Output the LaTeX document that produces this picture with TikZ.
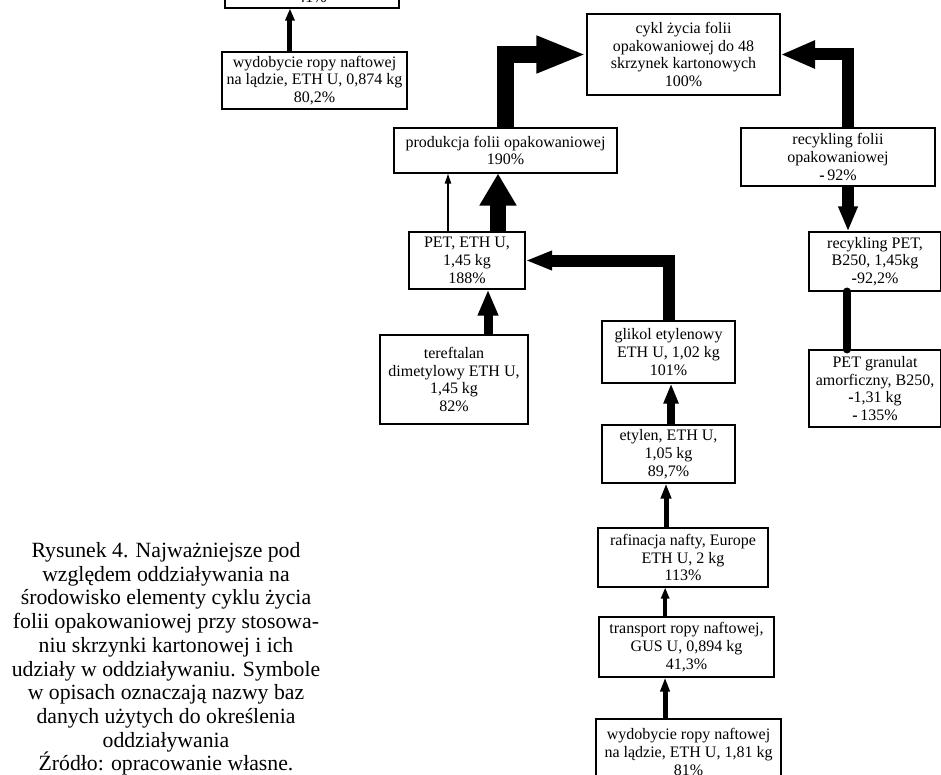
\documentclass[tikz,border=0pt]{standalone}
\usepackage{fontspec}
\setmainfont{Liberation Serif}
\usetikzlibrary{arrows.meta}

\begin{document}
\begin{tikzpicture}[
    x=0.75pt, y=-0.75pt,
    box/.style={rectangle, draw, line width=0.8pt, align=center, inner sep=1pt, font=\fontsize{12}{13.3}\selectfont},
    size/.style 2 args={minimum width=#1*0.75pt, minimum height=#2*0.75pt},
    flow/.style n args={3}{line width=#1, -{Triangle[length=#2, width=#3]}},
]

\useasboundingbox (0,0) rectangle (941,774);
\clip (0,0) rectangle (941,774);

% Left branch (cut at the top)
\node[box, size={174}{22}] (box1) at (312,-3) {41\%};
\node[box, size={185}{57}] (wyd1) at (314.5,80.5) {wydobycie ropy naftowej\\na lądzie, ETH U, 0,874 kg\\80,2\%};

% Top: whole life cycle
\node[box, size={193}{81}] (cykl) at (683.5,54.5) {cykl życia folii\\opakowaniowej do 48\\skrzynek kartonowych\\100\%};
\node[box, size={223}{45}] (prod) at (505.5,150.5) {produkcja folii opakowaniowej\\190\%};

% Recycling branch
\node[box, size={194}{58}] (recF) at (838,157) {recykling folii\\opakowaniowej\\\textbf{-}\,92\%};
\node[box, size={132}{59}] (recPET) at (875,261.5) {recykling PET,\\B250, 1,45kg\\\textbf{-}92,2\%};
\node[box, size={132}{77}] (gran) at (875,388.5) {PET granulat\\amorficzny, B250,\\\textbf{-}1,31 kg\\\textbf{-}\,135\%};

% PET and its inputs
\node[box, size={116}{57}] (PET) at (467,260.5) {PET, ETH U,\\1,45 kg\\188\%};
\node[box, size={148}{89}] (teref) at (454,379.5) {tereftalan\\dimetylowy ETH U,\\1,45 kg\\82\%};
\node[box, size={133}{62}] (glikol) at (668.5,352) {glikol etylenowy\\ETH U, 1,02 kg\\101\%};
\node[box, size={133}{58}] (etylen) at (668.5,454) {etylen, ETH U,\\1,05 kg\\89,7\%};
\node[box, size={170}{59}] (rafin) at (683,557.5) {rafinacja nafty, Europe\\ETH U, 2 kg\\113\%};
\node[box, size={175}{60}] (transp) at (686.5,647) {transport ropy naftowej,\\GUS U, 0,894 kg\\41,3\%};
\node[box, size={185}{66}] (wyd2) at (688.5,752) {wydobycie ropy naftowej\\na lądzie, ETH U, 1,81 kg\\81\%};

% Caption
\node[anchor=north, align=center, inner sep=0pt, font=\fontsize{16.3}{17.8}\selectfont] (caption) at (166,542)
    {Rysunek 4. Najważniejsze pod\\względem oddziaływania na\\środowisko elementy cyklu życia\\folii opakowaniowej przy stosowa-\\niu skrzynki kartonowej i ich\\udziały w oddziaływaniu. Symbole\\w opisach oznaczają nazwy baz\\danych użytych do określenia\\oddziaływania\\Źródło: opracowanie własne.};

% Arrows
\draw[flow={3.75pt}{9pt}{6.75pt}] ([xshift=-18.4pt]wyd1.north) -- ([xshift=-18.4pt]wyd1.north |- box1.south);
\draw[flow={12.75pt}{37.5pt}{25.5pt}] (prod.north) |- (cykl.west);
\draw[flow={9pt}{26pt}{19.5pt}] ([xshift=7.5pt]recF.north) |- (cykl.east);
\draw[flow={9pt}{18.75pt}{13.5pt}] ([xshift=7.5pt]recF.south) -- ([xshift=7.5pt]recF.south |- recPET.north);
\draw[line width=6pt, line cap=round] ([xshift=-21pt]recPET.south) -- ([xshift=-21pt]recPET.south |- gran.north);
\draw[flow={1.5pt}{7.5pt}{4.5pt}] ([xshift=-14.25pt]PET.north) -- ([xshift=-14.25pt]PET.north |- prod.south);
\draw[flow={12pt}{24pt}{26.25pt}] ([xshift=23.25pt]PET.north) -- ([xshift=23.25pt]PET.north |- prod.south);
\draw[flow={9pt}{20pt}{13.5pt}] (glikol.north) |- (PET.east);
\draw[flow={6.75pt}{19.5pt}{14.25pt}] ([xshift=25.5pt]teref.north) -- ([xshift=25.5pt]teref.north |- PET.south);
\draw[flow={6pt}{15pt}{10.5pt}] ([xshift=1.9pt]etylen.north) -- ([xshift=1.9pt]etylen.north |- glikol.south);
\draw[flow={3.75pt}{11.25pt}{7.5pt}] ([xshift=-12.75pt]rafin.north) -- ([xshift=-12.75pt]rafin.north |- etylen.south);
\draw[flow={2.6pt}{8.25pt}{6pt}] ([xshift=-16pt]transp.north) -- ([xshift=-16pt]transp.north |- rafin.south);
\draw[flow={3.75pt}{10.5pt}{6.75pt}] ([xshift=-17.6pt]wyd2.north) -- ([xshift=-17.6pt]wyd2.north |- transp.south);

\end{tikzpicture}
\end{document}
